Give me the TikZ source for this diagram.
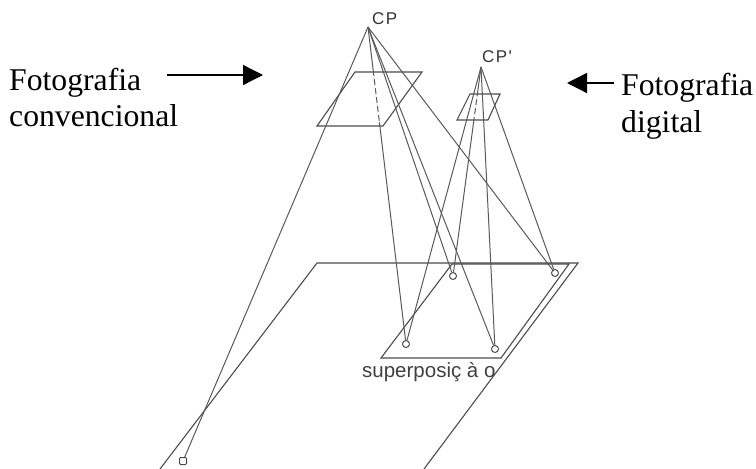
\documentclass[tikz,border=0pt]{standalone}
\usepackage{fontspec}
\setmainfont{Liberation Serif}
\newfontfamily\smallsans{Liberation Sans}
\newfontfamily\spacedsans[LetterSpace=8]{Liberation Sans}
\usetikzlibrary{arrows.meta,calc}
\tikzset{
  wire/.style={draw=black!65,line width=1pt},
  gap/.style={draw=white,line width=1.5pt,dash pattern=on 3pt off 6pt},
  plane/.style={draw=black!70,line width=1.1pt},
  tgt/.style={draw=black!70,line width=1pt,circle,inner sep=0pt,minimum size=7pt},
  sqtgt/.style={draw=black!70,line width=1pt,rectangle,rounded corners=1pt,inner sep=0pt,minimum size=7pt},
  lab/.style={inner sep=0pt,anchor=base west,font=\fontsize{31.7}{32}\selectfont},
  cplabel/.style={inner sep=0pt,anchor=base west,text=black!80,font=\spacedsans\fontsize{17}{17}\selectfont},
  drawn/.style={inner sep=0pt,anchor=base west,text=black!75,font=\smallsans\fontsize{20.5}{20.5}\selectfont},
  pointer/.style={draw=black,line width=1.3pt,-{Triangle[length=20pt,width=20pt]}}
}
\begin{document}
\begin{tikzpicture}[x=1pt,y=-1pt]
\useasboundingbox (0,0) rectangle (756,469);
\coordinate (cp) at (368,27);
\coordinate (cq) at (481,67);
% ground plane
\coordinate (g1) at (317,263);
\coordinate (g2) at (578,263);
\coordinate (g3) at (424,469);
\coordinate (g4) at (160,469);
\draw[plane] (g4) -- (g1) -- (g2) -- (g3);
% overlap
\coordinate (o1) at (452,264);
\coordinate (o2) at (569,264);
\coordinate (o3) at (501,358);
\coordinate (o4) at (381,358);
\draw[plane] (o4) -- (o1) -- (o2) -- (o3) -- cycle;
% frames
\coordinate (f1) at (355,72);
\coordinate (f2) at (422,72);
\coordinate (f3) at (383,126);
\coordinate (f4) at (317,126);
\draw[plane] (f1) -- (f2) -- (f3) -- (f4) -- cycle;
\coordinate (h1) at (470,94);
\coordinate (h2) at (500,94);
\coordinate (h3) at (488,120);
\coordinate (h4) at (457,120);
\draw[plane] (h1) -- (h2) -- (h3) -- (h4) -- cycle;
% targets
\node[sqtgt] (a) at (183,461) {};
\node[tgt] (b) at (406,344) {};
\node[tgt] (c) at (453,276) {};
\node[tgt] (d) at (495,349) {};
\node[tgt] (e) at (555,273) {};
% rays
\foreach \t in {a,b,c,d,e} \draw[wire] (cp) -- (\t);
\foreach \t in {b,c,d,e} \draw[wire] (cq) -- (\t);
% hidden parts of rays, inside the frames
\draw[gap] ($(cp)!.155!(b)$) -- ($(cp)!.30!(b)$);
\draw[gap] ($(cq)!.14!(c)$) -- ($(cq)!.245!(c)$);
% text
\node[cplabel] (cplab) at (372,24) {CP};
\node[cplabel] (cqlab) at (482,62) {CP'};
\node[drawn] (sup) at (362,377) {superposiç à o};
\node[lab] (f1a) at (9,90) {Fotografia};
\node[lab] (f1c) at (9,126) {convencional};
\node[lab] (f2a) at (621,95) {Fotografia};
\node[lab] (f2b) at (621,132) {digital};
\coordinate (s1) at (167,75);
\coordinate (s2) at (263,75);
\draw[pointer] (s1) -- (s2);
\coordinate (s3) at (614,83);
\coordinate (s4) at (567,83);
\draw[pointer] (s3) -- (s4);
\end{tikzpicture}
\end{document}
